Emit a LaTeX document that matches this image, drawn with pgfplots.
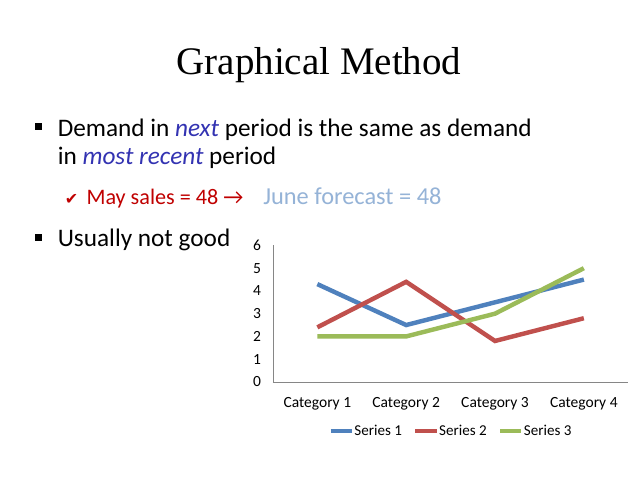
\documentclass[border=0pt]{standalone}
\usepackage{pgfplots}
\pgfplotsset{compat=1.18}
\usepackage{fontspec}
\setmainfont{Carlito}
\newfontfamily\timesfont{Liberation Serif}
\newfontfamily\symfont{DejaVu Sans}

\definecolor{s1}{HTML}{4F81BD}
\definecolor{s2}{HTML}{C0504D}
\definecolor{s3}{HTML}{9BBB59}
\definecolor{emph}{HTML}{3333B2}
\definecolor{maycol}{HTML}{C00000}
\definecolor{junecol}{HTML}{95B3D7}
\definecolor{axisgray}{HTML}{868686}

\begin{document}
\begin{tikzpicture}[x=1pt,y=1pt]
    % slide background
    \fill[white] (0,0) rectangle (720,540);

    % title and bullets
    \node[anchor=base,font=\timesfont\fontsize{44}{52}\selectfont] at (360,456) {Graphical Method};

    \fill (39.5,393.5) rectangle (47,401);
    \node[anchor=base west,inner sep=0,font=\fontsize{28.5}{34}\selectfont] at (65,386)
        {Demand in \textcolor{emph}{\itshape next} period is the same as demand};
    \node[anchor=base west,inner sep=0,font=\fontsize{28.5}{34}\selectfont] at (65,354)
        {in \textcolor{emph}{\itshape most recent} period};

    \node[anchor=base west,inner sep=0,font=\symfont\fontsize{18}{22}\selectfont,text=maycol] at (73,309.5) {✔};
    \node[anchor=base west,inner sep=0,font=\fontsize{25}{30}\selectfont,text=maycol] at (97.5,309)
        {May sales = 48 →};
    \node[anchor=base west,inner sep=0,font=\fontsize{27.5}{32}\selectfont,text=junecol] at (297,309)
        {June forecast = 48};

    \fill (39.5,268.5) rectangle (47,276);
    \node[anchor=base west,inner sep=0,font=\fontsize{28.5}{34}\selectfont] at (65,262)
        {Usually not good};

    % chart
    \begin{axis}[
        at={(308pt,109pt)},
        anchor=south west,
        scale only axis,
        width=401pt,
        height=154pt,
        xmin=0.5, xmax=4.5,
        ymin=0, ymax=6,
        xtick={1,2,3,4},
        xticklabels={Category 1, Category 2, Category 3, Category 4},
        ytick={0,1,2,3,4,5,6},
        axis lines=left,
        axis line style={-, axisgray, line width=0.7pt},
        major tick length=0pt,
        tick label style={font=\fontsize{17.5}{21}\selectfont},
        /pgf/number format/assume math mode=true,
        xticklabel style={yshift=-14pt},
        yticklabel style={xshift=-10pt},
        legend style={at={(0.5,-0.36)}, anchor=center, legend columns=-1,
            draw=none, font=\fontsize{17}{20}\selectfont,
            /tikz/every odd column/.append style={column sep=0pt},
            /tikz/every even column/.append style={column sep=12pt},
            nodes={inner sep=1pt}},
        legend image code/.code={\draw[#1, line width=4pt] (-2pt,0pt) -- (22pt,0pt);},
        legend cell align={left}
    ]
    \addplot[color=s1, line width=5pt] coordinates {(1,4.3) (2,2.5) (3,3.5) (4,4.5)};
    \addlegendentry{Series 1}
    \addplot[color=s2, line width=5pt] coordinates {(1,2.4) (2,4.4) (3,1.8) (4,2.8)};
    \addlegendentry{Series 2}
    \addplot[color=s3, line width=5pt] coordinates {(1,2) (2,2) (3,3) (4,5)};
    \addlegendentry{Series 3}
    \end{axis}
\end{tikzpicture}
\end{document}
